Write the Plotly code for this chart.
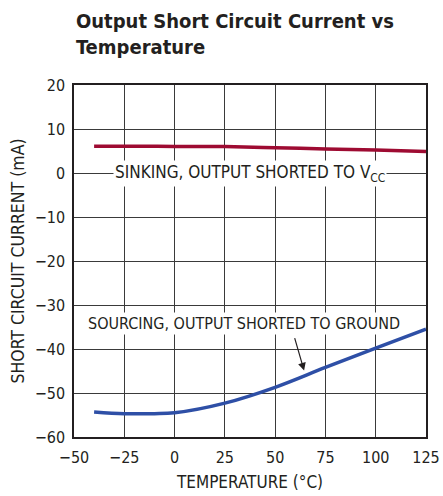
import plotly.graph_objects as go

# Data
temp_sink = [-40, -25, 0, 25, 50, 75, 100, 125]
sink_ma = [6.1, 6.1, 6.05, 6.0, 5.75, 5.45, 5.2, 4.9]

temp_source = [-40, -25, -10, 0, 25, 50, 75, 100, 125]
source_ma = [-54.3, -54.7, -54.7, -54.5, -52.3, -48.7, -44.2, -39.8, -35.5]

x_ticks = [-50, -25, 0, 25, 50, 75, 100, 125]
y_ticks = [-60, -50, -40, -30, -20, -10, 0, 10, 20]

FONT = "DejaVu Sans Condensed"
INK = "#231F20"
TITLE = "<b>Output Short Circuit Current vs<br>Temperature</b>"

fig = go.Figure()
fig.add_trace(go.Scatter(x=temp_sink, y=sink_ma, mode="lines",
                         line=dict(color="#9E0B32", width=3.5, shape="spline"),
                         showlegend=False, hoverinfo="skip"))
fig.add_trace(go.Scatter(x=temp_source, y=source_ma, mode="lines",
                         line=dict(color="#2E4FA6", width=3.5, shape="spline"),
                         showlegend=False, hoverinfo="skip"))

fig.add_annotation(x=37.5, y=0, xref="x", yref="y",
                   text="SINKING, OUTPUT SHORTED TO V<sub>CC</sub>",
                   showarrow=False, bgcolor="white",
                   font=dict(family=FONT, size=17, color=INK), borderpad=1)
fig.add_annotation(x=34.5, y=-34.2, xref="x", yref="y",
                   text="SOURCING, OUTPUT SHORTED TO GROUND",
                   showarrow=False, bgcolor="white",
                   font=dict(family=FONT, size=16, color=INK), borderpad=1)
fig.add_annotation(x=64.4, y=-44.9, ax=59.5, ay=-37.2, xref="x", yref="y",
                   axref="x", ayref="y", text="", showarrow=True,
                   arrowhead=2, arrowsize=1.3, arrowwidth=1.2, arrowcolor=INK)

# Title as a paper annotation (top-left, above the plot)
fig.add_annotation(x=0, y=1 + (85 - 7) / 352, xref="paper", yref="paper",
                   xanchor="left", yanchor="top", align="left", showarrow=False,
                   text=TITLE, font=dict(family=FONT, size=20, color=INK))

fig.update_layout(
    width=443, height=496,
    margin=dict(l=74, r=17, t=85, b=59),
    paper_bgcolor="white", plot_bgcolor="white",
    font=dict(family=FONT, color=INK),
)

fig.update_xaxes(range=[-50, 125], tickvals=x_ticks, showgrid=True,
                 gridcolor="#3a3a3a", gridwidth=1, zeroline=False,
                 showline=True, linecolor=INK, linewidth=1.5, mirror=True,
                 ticks="", automargin=False, ticklabelstandoff=5,
                 tickfont=dict(family=FONT, size=16, color=INK),
                 title=dict(text="TEMPERATURE (°C)", standoff=10,
                            font=dict(family=FONT, size=17, color=INK)))
fig.update_yaxes(range=[-60, 20], tickvals=y_ticks, showgrid=True,
                 gridcolor="#3a3a3a", gridwidth=1, zeroline=False,
                 showline=True, linecolor=INK, linewidth=1.5, mirror=True,
                 ticks="", automargin=False, ticklabelstandoff=4,
                 tickfont=dict(family=FONT, size=16, color=INK),
                 title=dict(text="SHORT CIRCUIT CURRENT (mA)", standoff=6,
                            font=dict(family=FONT, size=17.5, color=INK)))

fig.write_html("out.html", config={"displayModeBar": False},
               post_script="document.body.style.margin='0';")
